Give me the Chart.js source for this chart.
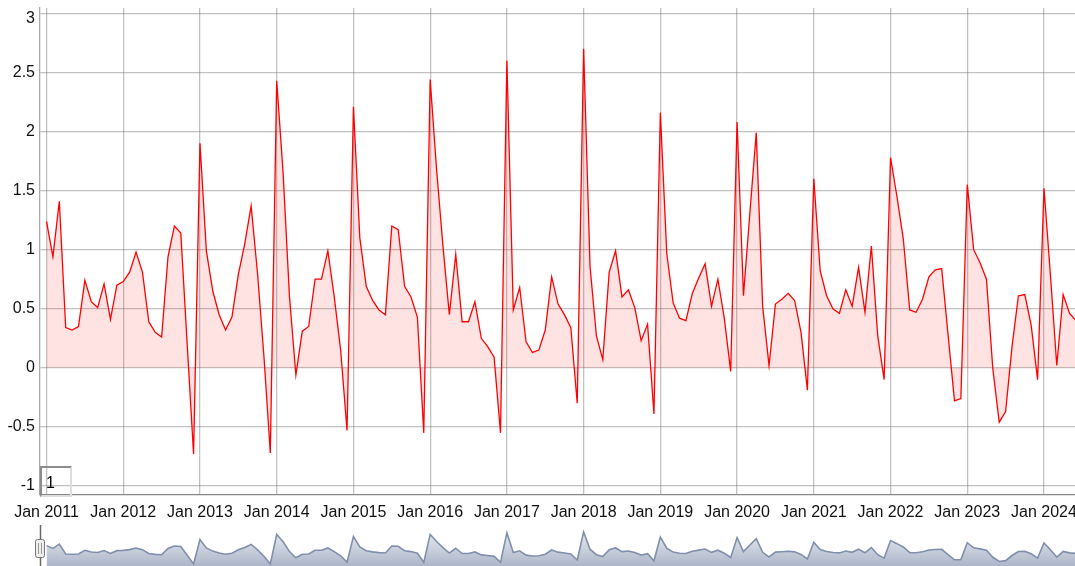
<!DOCTYPE html>
<html lang="en">
<head>
  <meta charset="UTF-8" />
  <title>Monthly series 2011-2024</title>
  <script src="https://cdn.jsdelivr.net/npm/chart.js@4"></script>
  <style>
    html, body { margin: 0; padding: 0; background: #fff; overflow: hidden; }
    #wrap { position: relative; width: 1075px; height: 566px; overflow: hidden; }
    #mainChart { position: absolute; left: 0; top: 0; }
    #navChart { position: absolute; left: 0; top: 524px; }
    #roller {
      position: absolute; left: 40px; top: 466px; width: 24px; height: 27px;
      border-top: 2px solid #8c8c8c; border-left: 2px solid #8c8c8c;
      border-right: 2px solid #dedede; border-bottom: 2px solid #dedede;
      font: 16px "Liberation Sans", Arial, sans-serif; color: #000;
      padding-left: 4px; line-height: 30px; box-sizing: content-box;
    }
  </style>
</head>
<body>
  <div id="wrap">
    <canvas id="mainChart" width="1075" height="527"></canvas>
    <canvas id="navChart" width="1075" height="48"></canvas>
    <div id="roller">1</div>
  </div>

  <script>
    // first month of the series = Jan 2011, one value per month
    const startYear = 2011;
    const values = [
      1.24, 0.94, 1.41, 0.34, 0.32, 0.35, 0.74, 0.56, 0.51, 0.71, 0.41, 0.70,   // 2011
      0.73, 0.81, 0.98, 0.81, 0.39, 0.30, 0.26, 0.94, 1.20, 1.14, 0.20, -0.73,  // 2012
      1.90, 0.99, 0.65, 0.45, 0.32, 0.43, 0.79, 1.05, 1.37, 0.80, 0.10, -0.72,  // 2013
      2.43, 1.65, 0.60, -0.06, 0.31, 0.35, 0.75, 0.75, 0.99, 0.60, 0.15, -0.53, // 2014
      2.21, 1.10, 0.69, 0.57, 0.49, 0.45, 1.20, 1.17, 0.69, 0.60, 0.43, -0.55,  // 2015
      2.44, 1.68, 1.03, 0.45, 0.96, 0.39, 0.39, 0.56, 0.25, 0.18, 0.09, -0.55,  // 2016
      2.60, 0.49, 0.68, 0.22, 0.13, 0.15, 0.32, 0.77, 0.54, 0.45, 0.34, -0.30,  // 2017
      2.70, 0.86, 0.27, 0.07, 0.81, 0.99, 0.60, 0.66, 0.51, 0.23, 0.37, -0.39,  // 2018
      2.16, 0.97, 0.55, 0.42, 0.40, 0.63, 0.76, 0.88, 0.52, 0.75, 0.42, -0.03,  // 2019
      2.08, 0.61, 1.31, 1.99, 0.52, 0.02, 0.54, 0.58, 0.63, 0.57, 0.30, -0.19,  // 2020
      1.60, 0.82, 0.61, 0.50, 0.46, 0.66, 0.52, 0.85, 0.47, 1.03, 0.27, -0.10,  // 2021
      1.78, 1.45, 1.09, 0.49, 0.47, 0.58, 0.77, 0.83, 0.84, 0.28, -0.28, -0.26, // 2022
      1.55, 1.00, 0.89, 0.75, -0.01, -0.46, -0.37, 0.18, 0.61, 0.62, 0.36, -0.10, // 2023
      1.52, 0.79, 0.02, 0.62, 0.46, 0.40                                          // 2024
    ];
    const xTickLabels = ["Jan 2011", "Jan 2012", "Jan 2013", "Jan 2014", "Jan 2015",
      "Jan 2016", "Jan 2017", "Jan 2018", "Jan 2019", "Jan 2020", "Jan 2021",
      "Jan 2022", "Jan 2023", "Jan 2024"];
    const yTicks = [-1, -0.5, 0, 0.5, 1, 1.5, 2, 2.5, 3];

    // month index -> point
    const points = values.map((v, i) => ({ x: i, y: v }));
    const xTickValues = xTickLabels.map(lbl => (parseInt(lbl.slice(4)) - startYear) * 12);
    const yTop = yTicks[yTicks.length - 1];

    const X_MIN = -1.02, X_MAX = 160.85;

    Chart.defaults.font.family = "'Liberation Sans', Arial, sans-serif";
    Chart.defaults.font.size = 16;
    Chart.defaults.color = "#111";

    // the top y label sits just below its grid line, kept inside the plot
    const topLabelPlugin = {
      id: "topLabel",
      afterDraw(chart) {
        const y = chart.scales.y;
        const c = chart.ctx;
        c.save();
        c.font = "16px 'Liberation Sans', Arial, sans-serif";
        c.fillStyle = "#111";
        c.textAlign = "right";
        c.textBaseline = "middle";
        c.fillText(String(yTop), y.right - 5, y.getPixelForValue(yTop) + 5);
        c.restore();
      }
    };

    new Chart(document.getElementById("mainChart"), {
      type: "line",
      data: {
        datasets: [{
          data: points,
          borderColor: "rgb(255,0,0)",
          borderWidth: 1.3,
          backgroundColor: "rgba(255,0,0,0.11)",
          fill: "origin",
          pointRadius: 0,
          tension: 0
        }]
      },
      options: {
        responsive: false,
        animation: false,
        layout: { padding: { top: 8, left: 0, right: 0, bottom: 0 } },
        plugins: { legend: { display: false }, tooltip: { enabled: false } },
        scales: {
          x: {
            type: "linear",
            min: X_MIN,
            max: X_MAX,
            afterBuildTicks: s => { s.ticks = xTickValues.map(v => ({ value: v })); },
            afterFit: s => { s.height = 32; s.paddingLeft = 0; s.paddingRight = 0; },
            ticks: {
              autoSkip: false,
              maxRotation: 0,
              padding: 8,
              color: "#111",
              callback: v => xTickLabels[xTickValues.indexOf(v)]
            },
            grid: { color: "rgba(120,120,120,0.45)", lineWidth: 1.3, drawTicks: false },
            border: { color: "#888", width: 1.3 }
          },
          y: {
            type: "linear",
            min: -1.076,
            max: 3.045,
            afterBuildTicks: s => { s.ticks = yTicks.map(v => ({ value: v })); },
            afterFit: s => { s.width = 40; s.paddingTop = 0; s.paddingBottom = 0; },
            ticks: { padding: 5, color: "#111", callback: v => (v === yTop ? "" : String(v)) },
            grid: { color: "rgba(120,120,120,0.45)", lineWidth: 1.3, drawTicks: false },
            border: { color: "#aaa", width: 1.3 }
          }
        }
      },
      plugins: [topLabelPlugin]
    });

    // range selector strip below the axis
    const handlePlugin = {
      id: "handle",
      afterDraw(chart) {
        const c = chart.ctx;
        const x = chart.chartArea.left;
        c.save();
        c.strokeStyle = "#666";
        c.lineWidth = 1.5;
        c.beginPath();
        c.moveTo(x + 0.5, 1);
        c.lineTo(x + 0.5, chart.height);
        c.stroke();
        c.fillStyle = "#eeeeee";
        c.strokeStyle = "#777";
        c.lineWidth = 1;
        c.beginPath();
        c.roundRect(x - 4.5, 15.5, 9, 18, 2);
        c.fill();
        c.stroke();
        c.strokeStyle = "#999";
        c.beginPath();
        c.moveTo(x - 1.5, 19); c.lineTo(x - 1.5, 30);
        c.moveTo(x + 1.5, 19); c.lineTo(x + 1.5, 30);
        c.stroke();
        c.restore();
      }
    };

    new Chart(document.getElementById("navChart"), {
      type: "line",
      data: {
        datasets: [{
          data: points,
          borderColor: "#808fab",
          borderWidth: 1.6,
          backgroundColor: ctx => {
            const area = ctx.chart.chartArea;
            if (!area) return "#c3cad8";
            const g = ctx.chart.ctx.createLinearGradient(0, area.top, 0, area.bottom);
            g.addColorStop(0, "#f4f5f9");
            g.addColorStop(1, "#a2adc2");
            return g;
          },
          fill: "start",
          pointRadius: 0,
          tension: 0
        }]
      },
      options: {
        responsive: false,
        animation: false,
        layout: { padding: { top: 0, left: 40, right: 0, bottom: 0 } },
        plugins: { legend: { display: false }, tooltip: { enabled: false } },
        scales: {
          x: { type: "linear", display: false, min: X_MIN, max: X_MAX },
          y: { type: "linear", display: false, min: -1.587, max: 3.557 }
        }
      },
      plugins: [handlePlugin]
    });
  </script>
</body>
</html>
